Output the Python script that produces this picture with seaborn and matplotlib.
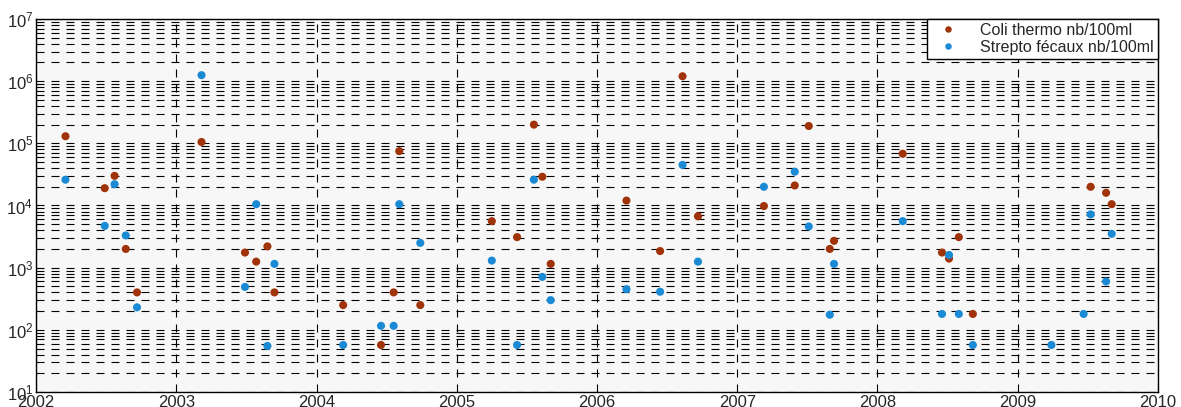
import numpy as np
import matplotlib
matplotlib.use("Agg")
import matplotlib.pyplot as plt
import matplotlib.ticker as mticker
import pandas as pd
import seaborn as sns

# sampling dates as decimal years
dates = [2002.21, 2002.49, 2002.56, 2002.64, 2002.72, 2003.18, 2003.49, 2003.57,
         2003.65, 2003.70, 2004.19, 2004.46, 2004.55, 2004.59, 2004.74, 2005.25,
         2005.43, 2005.55, 2005.61, 2005.67, 2006.21, 2006.45, 2006.61, 2006.72,
         2007.19, 2007.41, 2007.51, 2007.66, 2007.69, 2008.18, 2008.46, 2008.51,
         2008.58, 2008.68, 2009.24, 2009.47, 2009.52, 2009.63, 2009.67]

# Coli thermo nb/100ml (nan = not measured)
coli = [1.3e5, 1.9e4, 3.0e4, 2.0e3, 400, 1.05e5, 1.75e3, 1.25e3,
        2.2e3, 400, 250, 57, 400, 7.5e4, 250, 5.6e3,
        3.1e3, 2.0e5, 2.9e4, 1.15e3, 1.2e4, 1.85e3, 1.2e6, 6.7e3,
        9.8e3, 2.1e4, 1.9e5, 2.0e3, 2.7e3, 6.8e4, 1.75e3, 1.4e3,
        3.1e3, 180, np.nan, np.nan, 2.0e4, 1.6e4, 1.05e4]

# Strepto fécaux nb/100ml
strepto = [2.6e4, 4.7e3, 2.2e4, 3.3e3, 230, 1.25e6, 490, 1.05e4,
           55, 1.15e3, 57, 116, 116, 1.05e4, 2.5e3, 1.3e3,
           57, 2.6e4, 710, 300, 450, 410, 4.5e4, 1.25e3,
           2.0e4, 3.5e4, 4.6e3, 175, 1.15e3, 5.6e3, 180, 1.6e3,
           180, 57, 57, 180, 7.2e3, 600, 3.5e3]

labels = ["Coli thermo nb/100ml", "Strepto fécaux nb/100ml"]
colors = ["#a0330a", "#1a8ad4"]

df = pd.DataFrame({"date": dates, labels[0]: coli, labels[1]: strepto})
df = df.melt(id_vars="date", var_name="serie", value_name="valeur").dropna()

sns.set_style("white")
plt.rcParams["font.family"] = ["Liberation Sans", "DejaVu Sans"]
plt.rcParams["mathtext.fontset"] = "custom"
plt.rcParams["mathtext.rm"] = "Liberation Sans"
plt.rcParams["mathtext.it"] = "Liberation Sans"

fig = plt.figure(figsize=(11.81, 4.07), dpi=100)
ax = fig.add_axes([0.0305, 0.0369, 0.95, 0.9164])
ax.set_facecolor("#f7f7f7")

sns.scatterplot(data=df, x="date", y="valeur", hue="serie", palette=colors,
                s=34, edgecolor="none", ax=ax, zorder=3)

ax.set_yscale("log")
ax.set_ylim(10, 1e7)
ax.set_xlim(2002, 2010)
ax.xaxis.set_major_locator(mticker.MultipleLocator(1))
ax.xaxis.set_major_formatter(mticker.FormatStrFormatter("%d"))
ax.yaxis.set_major_locator(mticker.LogLocator(base=10, numticks=10))
ax.yaxis.set_minor_locator(mticker.LogLocator(base=10, subs=np.arange(2, 10), numticks=20))
ax.yaxis.set_minor_formatter(mticker.NullFormatter())

# MATLAB-like dashed grid
dash = (0, (7.2, 6.3))
ax.grid(True, which="major", axis="both", color="black", linestyle=dash, linewidth=0.8)
ax.grid(True, which="minor", axis="y", color="black", linestyle=dash, linewidth=0.8)
ax.set_axisbelow(True)

ax.tick_params(axis="both", which="both", direction="in", labelsize=12, pad=2,
               top=False, right=False)
ax.tick_params(which="major", length=5)
ax.tick_params(which="minor", length=3)
for s in ax.spines.values():
    s.set_color("black")
    s.set_linewidth(1.0)

ax.set_xlabel("")
ax.set_ylabel("")

leg = ax.legend(loc="upper right", frameon=True, fancybox=False, fontsize=11.5,
                borderaxespad=0, handletextpad=0.9, borderpad=0.25, labelspacing=0.1,
                markerscale=0.8, handlelength=2.2)
leg.get_frame().set_edgecolor("black")
leg.get_frame().set_facecolor("white")
leg.get_frame().set_linewidth(1.0)
leg.get_frame().set_alpha(1)

fig.savefig("out.png", dpi=100)
